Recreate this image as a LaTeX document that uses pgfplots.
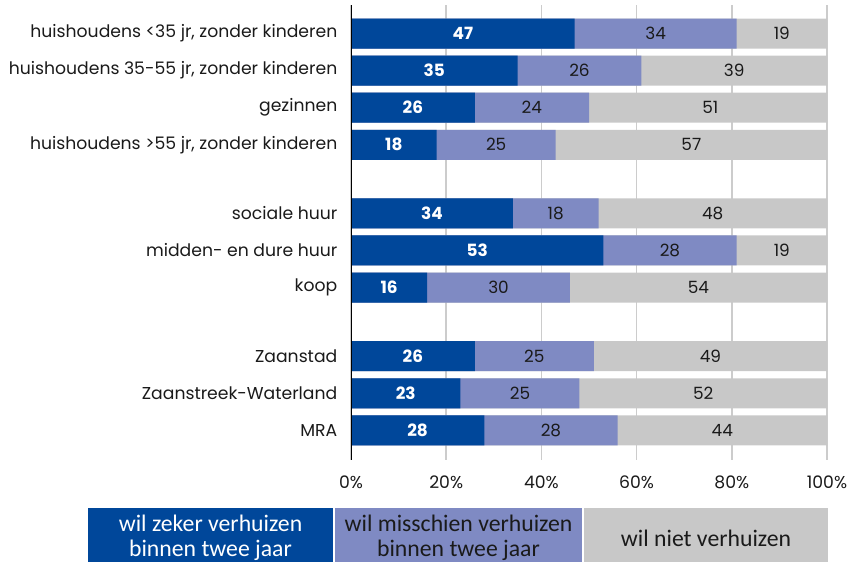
\documentclass[border=0pt]{standalone}
\usepackage{pgfplots}
\pgfplotsset{compat=1.18}
\usepackage{pgfplotstable}
\usepackage{fontspec}
\setmainfont{Poppins}
\newfontfamily\legendfont{Carlito}

\definecolor{zeker}{HTML}{00479A}
\definecolor{misschien}{HTML}{7F8AC3}
\definecolor{niet}{HTML}{C8C8C8}
\definecolor{txt}{HTML}{1A1A1A}

% y = positie van de rij (met ruimte tussen de groepen), a/b/c = aandelen in %
\pgfplotstableread{
y     a   b   c
0     47  34  19
1     35  26  39
2     26  24  51
3     18  25  57
4.85  34  18  48
5.85  53  28  19
6.85  16  30  54
8.7   26  25  49
9.7   23  25  52
10.7  28  28  44
}\data

\newcommand\chartfont{\fontsize{9.8}{12}\selectfont}
\newcommand\numfont{\fontsize{9.6}{11}\selectfont}

\begin{document}
\begin{tikzpicture}
\path[use as bounding box] (0,0) rectangle (17.06cm,-11.24cm);
\begin{axis}[
    at={(7.02cm,-9.2cm)}, anchor=south west,
    scale only axis,
    width=9.52cm, height=9.1cm,
    xmin=0, xmax=100,
    ymin=-0.77, ymax=11.5,
    y dir=reverse,
    axis line style={draw=none},
    xtick={0,20,40,60,80,100},
    xticklabels={0\%,20\%,40\%,60\%,80\%,100\%},
    ytick={0,1,2,3,4.85,5.85,6.85,8.7,9.7,10.7},
    yticklabels={
        {huishoudens <35 jr, zonder kinderen},
        {huishoudens 35-55 jr, zonder kinderen},
        gezinnen,
        {huishoudens >55 jr, zonder kinderen},
        sociale huur,
        midden- en dure huur,
        koop,
        Zaanstad,
        Zaanstreek-Waterland,
        MRA},
    major tick length=0pt,
    xmajorgrids,
    major grid style={black!20, line width=1pt},
    tick label style={font=\chartfont, text=txt},
    xticklabel style={yshift=-0.2cm},
    yticklabel style={xshift=-0.15cm},
    bar width=0.6cm,
]
    % balken: volle lengte eerst, daarna de kortere erover
    \addplot[xbar, bar shift=0pt, fill=niet, draw=none]
        table[x expr=\thisrow{a}+\thisrow{b}+\thisrow{c}, y=y] {\data};
    \addplot[xbar, bar shift=0pt, fill=misschien, draw=none]
        table[x expr=\thisrow{a}+\thisrow{b}, y=y] {\data};
    \addplot[xbar, bar shift=0pt, fill=zeker, draw=none]
        table[x=a, y=y] {\data};

    % waarden midden in de segmenten
    \addplot[draw=none, mark=none, nodes near coords, point meta=explicit symbolic,
        every node near coord/.append style={anchor=center, text=white, font=\numfont\bfseries}]
        table[x expr=\thisrow{a}/2, y=y, meta=a] {\data};
    \addplot[draw=none, mark=none, nodes near coords, point meta=explicit symbolic,
        every node near coord/.append style={anchor=center, text=txt, font=\numfont}]
        table[x expr=\thisrow{a}+\thisrow{b}/2, y=y, meta=b] {\data};
    \addplot[draw=none, mark=none, nodes near coords, point meta=explicit symbolic,
        every node near coord/.append style={anchor=center, text=txt, font=\numfont}]
        table[x expr=\thisrow{a}+\thisrow{b}+\thisrow{c}/2, y=y, meta=c] {\data};

    \draw[black, line width=1.2pt] (rel axis cs:0,0) -- (rel axis cs:0,1);
\end{axis}

% legenda
\begin{scope}[every node/.style={inner sep=0pt, minimum height=1.2cm, align=center,
        font=\legendfont\fontsize{13.5}{14.5}\selectfont}]
\node[fill=zeker, text=white, minimum width=4.9cm] at (4.21cm,-10.76cm)
    {wil zeker verhuizen\\binnen twee jaar};
\node[fill=misschien, text=txt, minimum width=4.94cm] at (9.17cm,-10.76cm)
    {wil misschien verhuizen\\binnen twee jaar};
\node[fill=niet, text=txt, minimum width=4.88cm] at (14.12cm,-10.76cm)
    {wil niet verhuizen};
\end{scope}
\end{tikzpicture}
\end{document}
